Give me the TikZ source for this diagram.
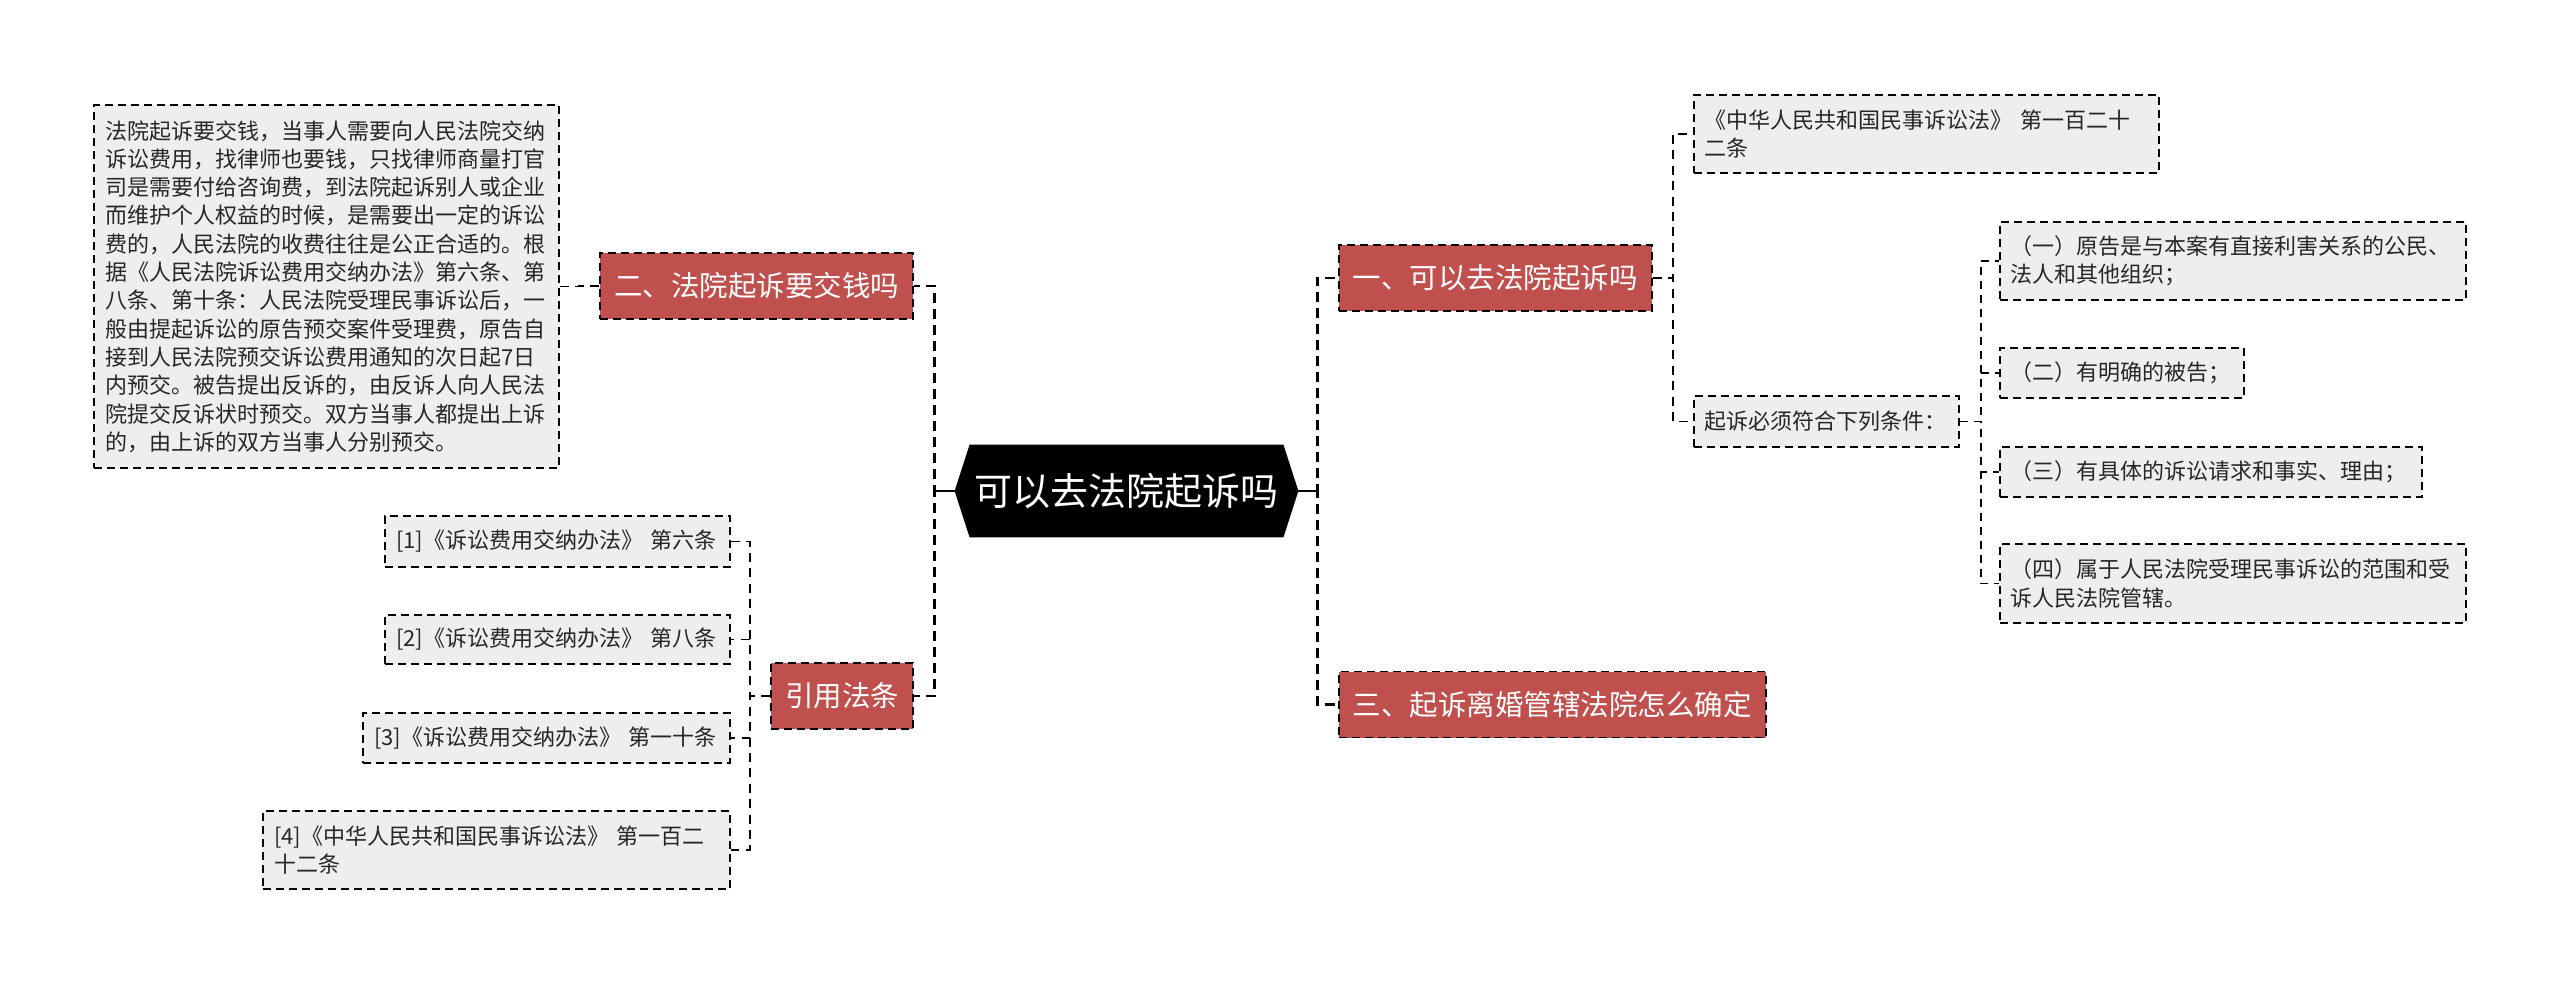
\documentclass[tikz,border=0pt]{standalone}
\usepackage{fontspec}
\newfontfamily\cjk{Noto Sans CJK SC}
\usetikzlibrary{backgrounds}
\definecolor{branchRed}{HTML}{C0504D}
\definecolor{leafGray}{HTML}{EEEEEE}
\definecolor{leafText}{HTML}{262626}

\begin{document}
\begin{tikzpicture}
[x=0.5pt,y=-0.5pt,
  rootDecorate/.style={inner sep=0pt,minimum width=156.5pt,minimum height=46pt,text=white,font=\cjk\fontsize{19pt}{23pt}\selectfont},%
  branchDecorate/.style={draw,fill=branchRed,line width=0.9pt,dash pattern=on 4pt off 2.5pt,inner xsep=7pt,inner ysep=0pt,minimum height=33pt,text=white,font=\cjk\fontsize{14.25pt}{17pt}\selectfont},
  leafDecorate/.style={draw,fill=leafGray,line width=0.9pt,dash pattern=on 4pt off 2.5pt,inner xsep=5.5pt,inner ysep=0pt,align=left,text=leafText,font=\cjk\fontsize{11pt}{14.15pt}\selectfont},
  trunkDecorate/.style={line width=1.3pt,dash pattern=on 5pt off 3pt},
  stubDecorate/.style={line width=1.3pt},
  lineDecorate/.style={line width=0.85pt,dash pattern=on 4.5pt off 3.2pt},
  thinDecorate/.style={line width=0.8pt,dash pattern=on 4pt off 3pt}]
\useasboundingbox (0,0) rectangle (2560,985);
%% centre and branches
\node (root) at (1126.5,491) [rootDecorate] {可以去法院起诉吗};
\node (fee) at (914,286) [branchDecorate,anchor=east] {二、法院起诉要交钱吗};
\node (cite) at (914,696) [branchDecorate,anchor=east] {引用法条};
\node (can) at (1338,278) [branchDecorate,anchor=west] {一、可以去法院起诉吗};
\node (divorce) at (1338,704.5) [branchDecorate,anchor=west] {三、起诉离婚管辖法院怎么确定};
\begin{scope}[on background layer]
\fill (root.north west) -- (root.north east) -- ([xshift=7.5pt]root.east) -- (root.south east)
  -- (root.south west) -- ([xshift=-7.5pt]root.west) -- cycle;
\end{scope}
%% leaves, left side
\node (feeText) at (560,286.5) [leafDecorate,anchor=east,text width=221.5pt,minimum height=181.5pt]
  {法院起诉要交钱，当事人需要向人民法院交纳\\诉讼费用，找律师也要钱，只找律师商量打官\\司是需要付给咨询费，到法院起诉别人或企业\\而维护个人权益的时候，是需要出一定的诉讼\\费的，人民法院的收费往往是公正合适的。根\\据《人民法院诉讼费用交纳办法》第六条、第\\八条、第十条：人民法院受理民事诉讼后，一\\般由提起诉讼的原告预交案件受理费，原告自\\接到人民法院预交诉讼费用通知的次日起7日\\内预交。被告提出反诉的，由反诉人向人民法\\院提交反诉状时预交。双方当事人都提出上诉\\的，由上诉的双方当事人分别预交。};
\foreach \nodename/\y/\w/\h/\txt in {law1/541.5/161.5pt/25.5pt/{[1]《诉讼费用交纳办法》~第六条},
  law2/639.5/161.5pt/24.5pt/{[2]《诉讼费用交纳办法》~第八条},
  law3/738/172.5pt/25pt/{[3]《诉讼费用交纳办法》~第一十条},
  law4/850/222.5pt/39pt/{[4]《中华人民共和国民事诉讼法》~第一百二\\十二条}} {
  \node (\nodename) at (731,\y) [leafDecorate,anchor=east,text width=\w,minimum height=\h] {\txt};
}
%% leaves, right side
\node (law122) at (1693,134) [leafDecorate,anchor=west,text width=221.5pt,minimum height=39pt]
  {《中华人民共和国民事诉讼法》~第一百二十\\二条};
\node (cond) at (1693,421.5) [leafDecorate,anchor=west,text width=121.5pt,minimum height=25.5pt]
  {起诉必须符合下列条件：};
\foreach \nodename/\y/\w/\h/\txt in {c1/261/222pt/39pt/{（一）原告是与本案有直接利害关系的公民、\\法人和其他组织；},
  c2/373/111pt/25pt/{（二）有明确的被告；},
  c3/472/200pt/25pt/{（三）有具体的诉讼请求和事实、理由；},
  c4/583.5/222pt/39.5pt/{（四）属于人民法院受理民事诉讼的范围和受\\诉人民法院管辖。}} {
  \node (\nodename) at (1999,\y) [leafDecorate,anchor=west,text width=\w,minimum height=\h] {\txt};
}
%% edges
\draw[stubDecorate] ([xshift=-7.5pt]root.west) -- ++(-10pt,0);
\draw[stubDecorate] ([xshift=7.5pt]root.east) -- ++(9.5pt,0);
\foreach \endnode in {fee,cite}
  \draw[trunkDecorate] ([xshift=-7.5pt]root.west) -- ++(-10pt,0) |- (\endnode.east);
\foreach \endnode in {can,divorce}
  \draw[trunkDecorate] ([xshift=7.5pt]root.east) -- ++(9.5pt,0) |- (\endnode.west);
\foreach \startnode/\endnode in {fee/feeText, cite/law1, cite/law2, cite/law3, cite/law4}
  \draw[lineDecorate] (\startnode.west) -- ++(-10pt,0) |- (\endnode.east);
\foreach \startnode/\endnode in {can/law122, can/cond}
  \draw[lineDecorate] (\startnode.east) -- ++(10pt,0) |- (\endnode.west);
\foreach \endnode in {c1,c2,c3,c4}
  \draw[thinDecorate] (cond.east) -- ++(10.5pt,0) |- (\endnode.west);
\end{tikzpicture}
\end{document}
